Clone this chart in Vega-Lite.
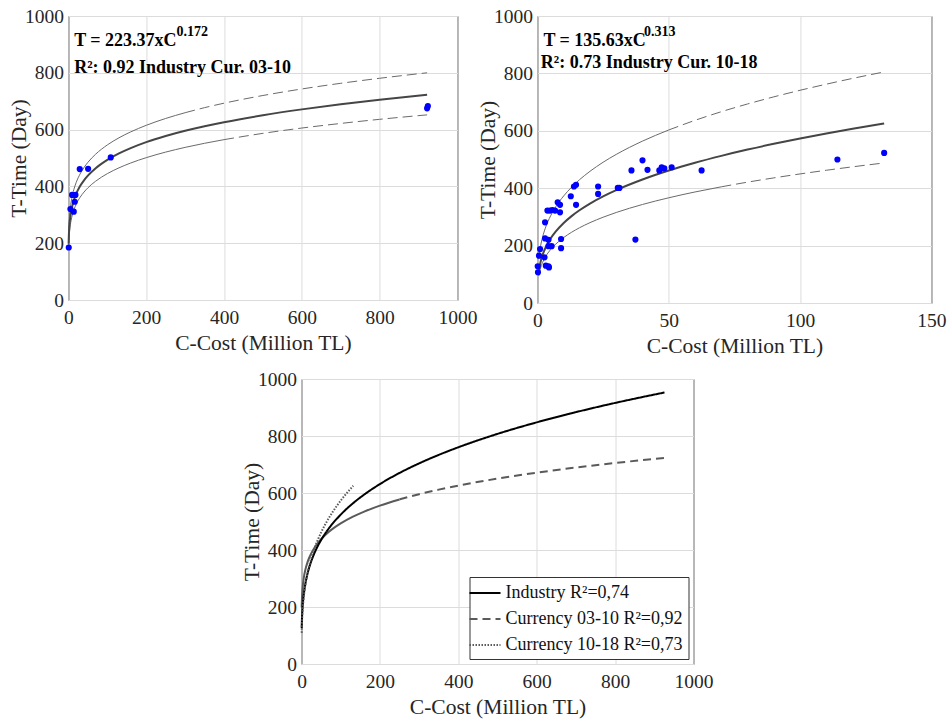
{
  "$schema": "https://vega.github.io/schema/vega-lite/v6.json",
  "padding": {"left": 7, "top": 5, "right": 5, "bottom": 5},
  "background": "white",
  "datasets": {
    "tl_points": [
      {"C": 0.8, "T": 185}, {"C": 5.1, "T": 320}, {"C": 13.7, "T": 311}, {"C": 16.3, "T": 346},
      {"C": 9.4, "T": 370}, {"C": 18, "T": 370}, {"C": 29, "T": 461}, {"C": 50.6, "T": 462},
      {"C": 108.8, "T": 502}, {"C": 922, "T": 675}, {"C": 924, "T": 683}
    ],
    "tl_curves": [
      {"C": 0.5, "T": 198.3, "curve": "fit"}, {"C": 1, "T": 223.4, "curve": "fit"}, {"C": 2, "T": 251.7, "curve": "fit"},
      {"C": 3, "T": 269.8, "curve": "fit"}, {"C": 5, "T": 294.6, "curve": "fit"}, {"C": 7, "T": 312.2, "curve": "fit"},
      {"C": 10, "T": 331.9, "curve": "fit"}, {"C": 15, "T": 355.9, "curve": "fit"}, {"C": 20, "T": 373.9, "curve": "fit"},
      {"C": 30, "T": 401.0, "curve": "fit"}, {"C": 40, "T": 421.3, "curve": "fit"}, {"C": 50, "T": 437.8, "curve": "fit"},
      {"C": 70, "T": 463.9, "curve": "fit"}, {"C": 100, "T": 493.2, "curve": "fit"}, {"C": 130, "T": 516.0, "curve": "fit"},
      {"C": 160, "T": 534.7, "curve": "fit"}, {"C": 200, "T": 555.7, "curve": "fit"}, {"C": 250, "T": 577.4, "curve": "fit"},
      {"C": 300, "T": 595.8, "curve": "fit"}, {"C": 350, "T": 611.8, "curve": "fit"}, {"C": 400, "T": 626.0, "curve": "fit"},
      {"C": 500, "T": 650.5, "curve": "fit"}, {"C": 600, "T": 671.2, "curve": "fit"}, {"C": 700, "T": 689.3, "curve": "fit"},
      {"C": 800, "T": 705.3, "curve": "fit"}, {"C": 922, "T": 722.7, "curve": "fit"},
      {"C": 0.5, "T": 219.5, "curve": "upper"}, {"C": 1, "T": 247.3, "curve": "upper"}, {"C": 2, "T": 278.6, "curve": "upper"},
      {"C": 3, "T": 298.7, "curve": "upper"}, {"C": 5, "T": 326.1, "curve": "upper"}, {"C": 7, "T": 345.6, "curve": "upper"},
      {"C": 10, "T": 367.4, "curve": "upper"}, {"C": 15, "T": 394.0, "curve": "upper"}, {"C": 20, "T": 414.0, "curve": "upper"},
      {"C": 30, "T": 443.9, "curve": "upper"}, {"C": 40, "T": 466.4, "curve": "upper"}, {"C": 50, "T": 484.6, "curve": "upper"},
      {"C": 70, "T": 513.5, "curve": "upper"}, {"C": 100, "T": 546.0, "curve": "upper"}, {"C": 130, "T": 571.2, "curve": "upper"},
      {"C": 160, "T": 591.9, "curve": "upper"}, {"C": 200, "T": 615.1, "curve": "upper"}, {"C": 250, "T": 639.2, "curve": "upper"},
      {"C": 300, "T": 659.5, "curve": "upper"}, {"C": 350, "T": 677.3, "curve": "upper"}, {"C": 400, "T": 693.0, "curve": "upper"},
      {"C": 500, "T": 720.1, "curve": "upper"}, {"C": 600, "T": 743.1, "curve": "upper"}, {"C": 700, "T": 763.0, "curve": "upper"},
      {"C": 800, "T": 780.7, "curve": "upper"}, {"C": 922, "T": 800.0, "curve": "upper"},
      {"C": 0.5, "T": 178.8, "curve": "lower"}, {"C": 1, "T": 201.5, "curve": "lower"}, {"C": 2, "T": 227.0, "curve": "lower"},
      {"C": 3, "T": 243.4, "curve": "lower"}, {"C": 5, "T": 265.8, "curve": "lower"}, {"C": 7, "T": 281.6, "curve": "lower"},
      {"C": 10, "T": 299.4, "curve": "lower"}, {"C": 15, "T": 321.0, "curve": "lower"}, {"C": 20, "T": 337.3, "curve": "lower"},
      {"C": 30, "T": 361.7, "curve": "lower"}, {"C": 40, "T": 380.0, "curve": "lower"}, {"C": 50, "T": 394.9, "curve": "lower"},
      {"C": 70, "T": 418.4, "curve": "lower"}, {"C": 100, "T": 444.9, "curve": "lower"}, {"C": 130, "T": 465.4, "curve": "lower"},
      {"C": 160, "T": 482.3, "curve": "lower"}, {"C": 200, "T": 501.2, "curve": "lower"}, {"C": 250, "T": 520.8, "curve": "lower"},
      {"C": 300, "T": 537.4, "curve": "lower"}, {"C": 350, "T": 551.8, "curve": "lower"}, {"C": 400, "T": 564.7, "curve": "lower"},
      {"C": 500, "T": 586.8, "curve": "lower"}, {"C": 600, "T": 605.5, "curve": "lower"}, {"C": 700, "T": 621.7, "curve": "lower"},
      {"C": 800, "T": 636.2, "curve": "lower"}, {"C": 922, "T": 651.9, "curve": "lower"}
    ],
    "tl_text": [
      {"C": 14.7, "T": 894, "label": "T = 223.37xC", "part": "line"},
      {"C": 14.7, "T": 800, "label": "R²: 0.92 Industry Cur. 03-10", "part": "line"},
      {"C": 277.6, "T": 929.6, "label": "0.172", "part": "exp"}
    ],
    "tr_points": [
      {"C": 0.1, "T": 128}, {"C": 0.2, "T": 107}, {"C": 0.6, "T": 165}, {"C": 1.0, "T": 188},
      {"C": 2.7, "T": 159}, {"C": 2.9, "T": 281}, {"C": 2.9, "T": 225}, {"C": 3.2, "T": 130},
      {"C": 3.8, "T": 322}, {"C": 4.2, "T": 220}, {"C": 4.2, "T": 198}, {"C": 4.2, "T": 128},
      {"C": 4.4, "T": 124}, {"C": 4.8, "T": 322}, {"C": 5.4, "T": 198}, {"C": 5.7, "T": 324},
      {"C": 6.7, "T": 322}, {"C": 7.7, "T": 351}, {"C": 8.6, "T": 342}, {"C": 8.6, "T": 316},
      {"C": 9.0, "T": 223}, {"C": 9.0, "T": 191}, {"C": 12.7, "T": 372}, {"C": 13.9, "T": 406},
      {"C": 14.7, "T": 412}, {"C": 14.7, "T": 342}, {"C": 23.1, "T": 406}, {"C": 23.1, "T": 380},
      {"C": 30.6, "T": 401}, {"C": 31.2, "T": 401}, {"C": 35.8, "T": 462}, {"C": 37.3, "T": 221},
      {"C": 40.0, "T": 497}, {"C": 41.9, "T": 464}, {"C": 46.4, "T": 462}, {"C": 47.3, "T": 473},
      {"C": 48.3, "T": 469}, {"C": 51.1, "T": 473}, {"C": 62.5, "T": 462}, {"C": 114.2, "T": 500},
      {"C": 132.0, "T": 523}
    ],
    "tr_curves": [
      {"C": 0.5, "T": 109.2, "curve": "fit"}, {"C": 1, "T": 135.6, "curve": "fit"}, {"C": 2, "T": 168.5, "curve": "fit"},
      {"C": 3, "T": 191.3, "curve": "fit"}, {"C": 4, "T": 209.3, "curve": "fit"}, {"C": 5, "T": 224.5, "curve": "fit"},
      {"C": 7, "T": 249.4, "curve": "fit"}, {"C": 10, "T": 278.8, "curve": "fit"}, {"C": 13, "T": 302.7, "curve": "fit"},
      {"C": 16, "T": 323.0, "curve": "fit"}, {"C": 20, "T": 346.4, "curve": "fit"}, {"C": 25, "T": 371.5, "curve": "fit"},
      {"C": 30, "T": 393.3, "curve": "fit"}, {"C": 40, "T": 430.3, "curve": "fit"}, {"C": 50, "T": 461.5, "curve": "fit"},
      {"C": 60, "T": 488.6, "curve": "fit"}, {"C": 70, "T": 512.7, "curve": "fit"}, {"C": 80, "T": 534.6, "curve": "fit"},
      {"C": 90, "T": 554.7, "curve": "fit"}, {"C": 100, "T": 573.3, "curve": "fit"}, {"C": 110, "T": 590.6, "curve": "fit"},
      {"C": 120, "T": 606.9, "curve": "fit"}, {"C": 132, "T": 625.3, "curve": "fit"},
      {"C": 0.5, "T": 152.8, "curve": "upper"}, {"C": 1, "T": 187.9, "curve": "upper"}, {"C": 2, "T": 231.0, "curve": "upper"},
      {"C": 3, "T": 260.7, "curve": "upper"}, {"C": 4, "T": 284.0, "curve": "upper"}, {"C": 5, "T": 303.5, "curve": "upper"},
      {"C": 7, "T": 335.6, "curve": "upper"}, {"C": 10, "T": 373.2, "curve": "upper"}, {"C": 13, "T": 403.5, "curve": "upper"},
      {"C": 16, "T": 429.3, "curve": "upper"}, {"C": 20, "T": 458.8, "curve": "upper"}, {"C": 25, "T": 490.4, "curve": "upper"},
      {"C": 30, "T": 517.7, "curve": "upper"}, {"C": 40, "T": 564.1, "curve": "upper"}, {"C": 50, "T": 602.9, "curve": "upper"},
      {"C": 60, "T": 636.5, "curve": "upper"}, {"C": 70, "T": 666.5, "curve": "upper"}, {"C": 80, "T": 693.5, "curve": "upper"},
      {"C": 90, "T": 718.3, "curve": "upper"}, {"C": 100, "T": 741.2, "curve": "upper"}, {"C": 110, "T": 762.5, "curve": "upper"},
      {"C": 120, "T": 782.6, "curve": "upper"}, {"C": 132, "T": 805.1, "curve": "upper"},
      {"C": 0.5, "T": 94.4, "curve": "lower"}, {"C": 1, "T": 115.8, "curve": "lower"}, {"C": 2, "T": 142.0, "curve": "lower"},
      {"C": 3, "T": 160.1, "curve": "lower"}, {"C": 4, "T": 174.2, "curve": "lower"}, {"C": 5, "T": 186.1, "curve": "lower"},
      {"C": 7, "T": 205.4, "curve": "lower"}, {"C": 10, "T": 228.2, "curve": "lower"}, {"C": 13, "T": 246.5, "curve": "lower"},
      {"C": 16, "T": 262.1, "curve": "lower"}, {"C": 20, "T": 279.9, "curve": "lower"}, {"C": 25, "T": 298.9, "curve": "lower"},
      {"C": 30, "T": 315.4, "curve": "lower"}, {"C": 40, "T": 343.3, "curve": "lower"}, {"C": 50, "T": 366.6, "curve": "lower"},
      {"C": 60, "T": 386.9, "curve": "lower"}, {"C": 70, "T": 404.8, "curve": "lower"}, {"C": 80, "T": 421.1, "curve": "lower"},
      {"C": 90, "T": 435.9, "curve": "lower"}, {"C": 100, "T": 449.7, "curve": "lower"}, {"C": 110, "T": 462.5, "curve": "lower"},
      {"C": 120, "T": 474.5, "curve": "lower"}, {"C": 132, "T": 488.0, "curve": "lower"}
    ],
    "tr_text": [
      {"C": 2.28, "T": 895, "label": "T = 135.63xC", "part": "line"},
      {"C": 1.26, "T": 818.6, "label": "R²: 0.73 Industry Cur. 10-18", "part": "line"},
      {"C": 40.6, "T": 930, "label": "0.313", "part": "exp"}
    ],
    "b_curves": [
      {"C": 0.5, "T": 126.4, "series": "Industry R²=0,74"}, {"C": 1, "T": 152.2, "series": "Industry R²=0,74"},
      {"C": 2, "T": 183.3, "series": "Industry R²=0,74"}, {"C": 3, "T": 204.4, "series": "Industry R²=0,74"},
      {"C": 5, "T": 234.5, "series": "Industry R²=0,74"}, {"C": 7, "T": 256.6, "series": "Industry R²=0,74"},
      {"C": 10, "T": 282.4, "series": "Industry R²=0,74"}, {"C": 15, "T": 314.9, "series": "Industry R²=0,74"},
      {"C": 20, "T": 340.2, "series": "Industry R²=0,74"}, {"C": 30, "T": 379.3, "series": "Industry R²=0,74"},
      {"C": 40, "T": 409.8, "series": "Industry R²=0,74"}, {"C": 50, "T": 435.1, "series": "Industry R²=0,74"},
      {"C": 70, "T": 476.2, "series": "Industry R²=0,74"}, {"C": 100, "T": 524.1, "series": "Industry R²=0,74"},
      {"C": 130, "T": 562.4, "series": "Industry R²=0,74"}, {"C": 160, "T": 594.6, "series": "Industry R²=0,74"},
      {"C": 200, "T": 631.3, "series": "Industry R²=0,74"}, {"C": 250, "T": 670.3, "series": "Industry R²=0,74"},
      {"C": 300, "T": 703.9, "series": "Industry R²=0,74"}, {"C": 350, "T": 733.7, "series": "Industry R²=0,74"},
      {"C": 400, "T": 760.4, "series": "Industry R²=0,74"}, {"C": 500, "T": 807.4, "series": "Industry R²=0,74"},
      {"C": 600, "T": 847.9, "series": "Industry R²=0,74"}, {"C": 700, "T": 883.7, "series": "Industry R²=0,74"},
      {"C": 800, "T": 916.0, "series": "Industry R²=0,74"}, {"C": 926, "T": 952.7, "series": "Industry R²=0,74"},
      {"C": 0.5, "T": 198.3, "series": "Currency 03-10 R²=0,92"}, {"C": 1, "T": 223.4, "series": "Currency 03-10 R²=0,92"},
      {"C": 2, "T": 251.7, "series": "Currency 03-10 R²=0,92"}, {"C": 3, "T": 269.8, "series": "Currency 03-10 R²=0,92"},
      {"C": 5, "T": 294.6, "series": "Currency 03-10 R²=0,92"}, {"C": 7, "T": 312.2, "series": "Currency 03-10 R²=0,92"},
      {"C": 10, "T": 331.9, "series": "Currency 03-10 R²=0,92"}, {"C": 15, "T": 355.9, "series": "Currency 03-10 R²=0,92"},
      {"C": 20, "T": 373.9, "series": "Currency 03-10 R²=0,92"}, {"C": 30, "T": 401.0, "series": "Currency 03-10 R²=0,92"},
      {"C": 40, "T": 421.3, "series": "Currency 03-10 R²=0,92"}, {"C": 50, "T": 437.8, "series": "Currency 03-10 R²=0,92"},
      {"C": 70, "T": 463.9, "series": "Currency 03-10 R²=0,92"}, {"C": 100, "T": 493.2, "series": "Currency 03-10 R²=0,92"},
      {"C": 130, "T": 516.0, "series": "Currency 03-10 R²=0,92"}, {"C": 160, "T": 534.7, "series": "Currency 03-10 R²=0,92"},
      {"C": 200, "T": 555.7, "series": "Currency 03-10 R²=0,92"}, {"C": 250, "T": 577.4, "series": "Currency 03-10 R²=0,92"},
      {"C": 300, "T": 595.8, "series": "Currency 03-10 R²=0,92"}, {"C": 350, "T": 611.8, "series": "Currency 03-10 R²=0,92"},
      {"C": 400, "T": 626.0, "series": "Currency 03-10 R²=0,92"}, {"C": 500, "T": 650.5, "series": "Currency 03-10 R²=0,92"},
      {"C": 600, "T": 671.2, "series": "Currency 03-10 R²=0,92"}, {"C": 700, "T": 689.3, "series": "Currency 03-10 R²=0,92"},
      {"C": 800, "T": 705.3, "series": "Currency 03-10 R²=0,92"}, {"C": 926, "T": 723.2, "series": "Currency 03-10 R²=0,92"},
      {"C": 0.5, "T": 109.2, "series": "Currency 10-18 R²=0,73"}, {"C": 1, "T": 135.6, "series": "Currency 10-18 R²=0,73"},
      {"C": 2, "T": 168.5, "series": "Currency 10-18 R²=0,73"}, {"C": 3, "T": 191.3, "series": "Currency 10-18 R²=0,73"},
      {"C": 4, "T": 209.3, "series": "Currency 10-18 R²=0,73"}, {"C": 5, "T": 224.5, "series": "Currency 10-18 R²=0,73"},
      {"C": 7, "T": 249.4, "series": "Currency 10-18 R²=0,73"}, {"C": 10, "T": 278.8, "series": "Currency 10-18 R²=0,73"},
      {"C": 13, "T": 302.7, "series": "Currency 10-18 R²=0,73"}, {"C": 16, "T": 323.0, "series": "Currency 10-18 R²=0,73"},
      {"C": 20, "T": 346.4, "series": "Currency 10-18 R²=0,73"}, {"C": 25, "T": 371.5, "series": "Currency 10-18 R²=0,73"},
      {"C": 30, "T": 393.3, "series": "Currency 10-18 R²=0,73"}, {"C": 40, "T": 430.3, "series": "Currency 10-18 R²=0,73"},
      {"C": 50, "T": 461.5, "series": "Currency 10-18 R²=0,73"}, {"C": 60, "T": 488.6, "series": "Currency 10-18 R²=0,73"},
      {"C": 70, "T": 512.7, "series": "Currency 10-18 R²=0,73"}, {"C": 80, "T": 534.6, "series": "Currency 10-18 R²=0,73"},
      {"C": 90, "T": 554.7, "series": "Currency 10-18 R²=0,73"}, {"C": 100, "T": 573.3, "series": "Currency 10-18 R²=0,73"},
      {"C": 110, "T": 590.6, "series": "Currency 10-18 R²=0,73"}, {"C": 120, "T": 606.9, "series": "Currency 10-18 R²=0,73"},
      {"C": 132, "T": 625.3, "series": "Currency 10-18 R²=0,73"}
    ]
  },
  "vconcat": [
    {
      "hconcat": [
        {
          "width": 389,
          "height": 284,
          "encoding": {
            "x": {"field": "C", "type": "quantitative", "scale": {"domain": [0, 1000], "nice": false, "zero": false}, "axis": {"title": "C-Cost (Million TL)", "values": [0, 200, 400, 600, 800, 1000], "format": "d"}},
            "y": {"field": "T", "type": "quantitative", "scale": {"domain": [0, 1000], "nice": false}, "axis": {"title": "T-Time (Day)", "values": [0, 200, 400, 600, 800, 1000], "format": "d"}}
          },
          "layer": [
            {
              "data": {"name": "tl_curves"},
              "transform": [{"filter": "(datum.curve === 'upper' && datum.C <= 300) || (datum.curve === 'lower' && datum.C <= 400)"}],
              "mark": {"type": "line", "color": "#6a6a6a", "strokeWidth": 1, "interpolate": "monotone"},
              "encoding": {"detail": {"field": "curve"}}
            },
            {
              "data": {"name": "tl_curves"},
              "transform": [{"filter": "(datum.curve === 'upper' && datum.C >= 300) || (datum.curve === 'lower' && datum.C >= 400)"}],
              "mark": {"type": "line", "color": "#6a6a6a", "strokeWidth": 1, "strokeDash": [10, 5], "interpolate": "monotone"},
              "encoding": {"detail": {"field": "curve"}}
            },
            {
              "data": {"name": "tl_curves"},
              "transform": [{"filter": "datum.curve === 'fit'"}],
              "mark": {"type": "line", "color": "#454545", "strokeWidth": 2, "interpolate": "monotone"},
              "encoding": {}
            },
            {
              "data": {"name": "tl_points"},
              "mark": {"type": "circle", "color": "#0000ff", "opacity": 1, "size": 38},
              "encoding": {}
            },
            {
              "data": {"name": "tl_text"},
              "transform": [{"filter": "datum.part === 'line'"}],
              "mark": {"type": "text", "align": "left", "baseline": "alphabetic", "font": "Liberation Serif", "fontWeight": "bold", "fontSize": 18, "color": "#000000"},
              "encoding": {"text": {"field": "label"}}
            },
            {
              "data": {"name": "tl_text"},
              "transform": [{"filter": "datum.part === 'exp'"}],
              "mark": {"type": "text", "align": "left", "baseline": "alphabetic", "font": "Liberation Serif", "fontWeight": "bold", "fontSize": 14, "color": "#000000"},
              "encoding": {"text": {"field": "label"}}
            }
          ]
        },
        {
          "width": 394,
          "height": 287,
          "encoding": {
            "x": {"field": "C", "type": "quantitative", "scale": {"domain": [0, 150], "nice": false, "zero": false}, "axis": {"title": "C-Cost (Million TL)", "values": [0, 50, 100, 150], "format": "d"}},
            "y": {"field": "T", "type": "quantitative", "scale": {"domain": [0, 1000], "nice": false}, "axis": {"title": "T-Time (Day)", "values": [0, 200, 400, 600, 800, 1000], "format": "d"}}
          },
          "layer": [
            {
              "data": {"name": "tr_curves"},
              "transform": [{"filter": "(datum.curve === 'upper' && datum.C <= 50) || (datum.curve === 'lower' && datum.C <= 70)"}],
              "mark": {"type": "line", "color": "#6a6a6a", "strokeWidth": 1, "interpolate": "monotone"},
              "encoding": {"detail": {"field": "curve"}}
            },
            {
              "data": {"name": "tr_curves"},
              "transform": [{"filter": "(datum.curve === 'upper' && datum.C >= 50) || (datum.curve === 'lower' && datum.C >= 70)"}],
              "mark": {"type": "line", "color": "#6a6a6a", "strokeWidth": 1, "strokeDash": [10, 5], "interpolate": "monotone"},
              "encoding": {"detail": {"field": "curve"}}
            },
            {
              "data": {"name": "tr_curves"},
              "transform": [{"filter": "datum.curve === 'fit'"}],
              "mark": {"type": "line", "color": "#454545", "strokeWidth": 2, "interpolate": "monotone"},
              "encoding": {}
            },
            {
              "data": {"name": "tr_points"},
              "mark": {"type": "circle", "color": "#0000ff", "opacity": 1, "size": 38},
              "encoding": {}
            },
            {
              "data": {"name": "tr_text"},
              "transform": [{"filter": "datum.part === 'line'"}],
              "mark": {"type": "text", "align": "left", "baseline": "alphabetic", "font": "Liberation Serif", "fontWeight": "bold", "fontSize": 18, "color": "#000000"},
              "encoding": {"text": {"field": "label"}}
            },
            {
              "data": {"name": "tr_text"},
              "transform": [{"filter": "datum.part === 'exp'"}],
              "mark": {"type": "text", "align": "left", "baseline": "alphabetic", "font": "Liberation Serif", "fontWeight": "bold", "fontSize": 14, "color": "#000000"},
              "encoding": {"text": {"field": "label"}}
            }
          ]
        }
      ],
      "spacing": -1
    },
    {
      "width": 392,
      "height": 285,
      "data": {"name": "b_curves"},
      "encoding": {
        "x": {"field": "C", "type": "quantitative", "scale": {"domain": [0, 1000], "nice": false, "zero": false}, "axis": {"title": "C-Cost (Million TL)", "values": [0, 200, 400, 600, 800, 1000], "format": "d"}},
        "y": {"field": "T", "type": "quantitative", "scale": {"domain": [0, 1000], "nice": false}, "axis": {"title": "T-Time (Day)", "values": [0, 200, 400, 600, 800, 1000], "format": "d"}}
      },
      "layer": [
        {
          "transform": [{"filter": "datum.series === 'Currency 03-10 R²=0,92' && datum.C <= 250"}],
          "mark": {"type": "line", "color": "#5a5a5a", "strokeWidth": 2, "interpolate": "monotone"},
          "encoding": {}
        },
        {
          "transform": [{"filter": "datum.series !== 'Currency 03-10 R²=0,92' || datum.C >= 250"}],
          "mark": {"type": "line", "interpolate": "monotone"},
          "encoding": {
            "color": {"field": "series", "type": "nominal", "scale": {"domain": ["Industry R²=0,74", "Currency 03-10 R²=0,92", "Currency 10-18 R²=0,73"], "range": ["#000000", "#5a5a5a", "#5a5a5a"]}, "legend": {"title": null}},
            "strokeDash": {"field": "series", "type": "nominal", "scale": {"domain": ["Industry R²=0,74", "Currency 03-10 R²=0,92", "Currency 10-18 R²=0,73"], "range": [[1, 0], [8, 5], [1.5, 1.5]]}, "legend": {"title": null}},
            "strokeWidth": {"field": "series", "type": "nominal", "scale": {"domain": ["Industry R²=0,74", "Currency 03-10 R²=0,92", "Currency 10-18 R²=0,73"], "range": [2, 2, 1.5]}, "legend": {"title": null}}
          }
        }
      ]
    }
  ],
  "spacing": 10,
  "center": true,
  "resolve": {
    "scale": {"x": "independent", "y": "independent", "color": "independent", "strokeDash": "independent", "strokeWidth": "independent"},
    "legend": {"color": "independent", "strokeDash": "independent", "strokeWidth": "independent"}
  },
  "config": {
    "font": "Liberation Serif",
    "view": {"stroke": "#262626", "strokeWidth": 1, "fill": "white"},
    "axis": {
      "domain": false, "ticks": false, "grid": true, "gridColor": "#dcdcdc", "gridWidth": 1,
      "labelFont": "Liberation Serif", "labelFontSize": 19.5, "labelColor": "#262626",
      "titleFont": "Liberation Serif", "titleFontSize": 21.5, "titleFontWeight": "normal", "titleColor": "#262626",
      "labelFlush": false, "labelOverlap": false
    },
    "axisX": {"labelPadding": 8, "titlePadding": 6},
    "axisY": {"labelPadding": 5, "titlePadding": -6},
    "legend": {
      "orient": "bottom-right", "offset": 5, "symbolType": "M-1.6,0H1.5", "symbolSize": 400,
      "labelFont": "Liberation Serif", "labelFontSize": 18, "labelColor": "#111111",
      "strokeColor": "#333333", "fillColor": "white", "padding": 5, "rowPadding": 6,
      "labelOffset": 9, "symbolOffset": 0, "labelLimit": 300
    }
  }
}
